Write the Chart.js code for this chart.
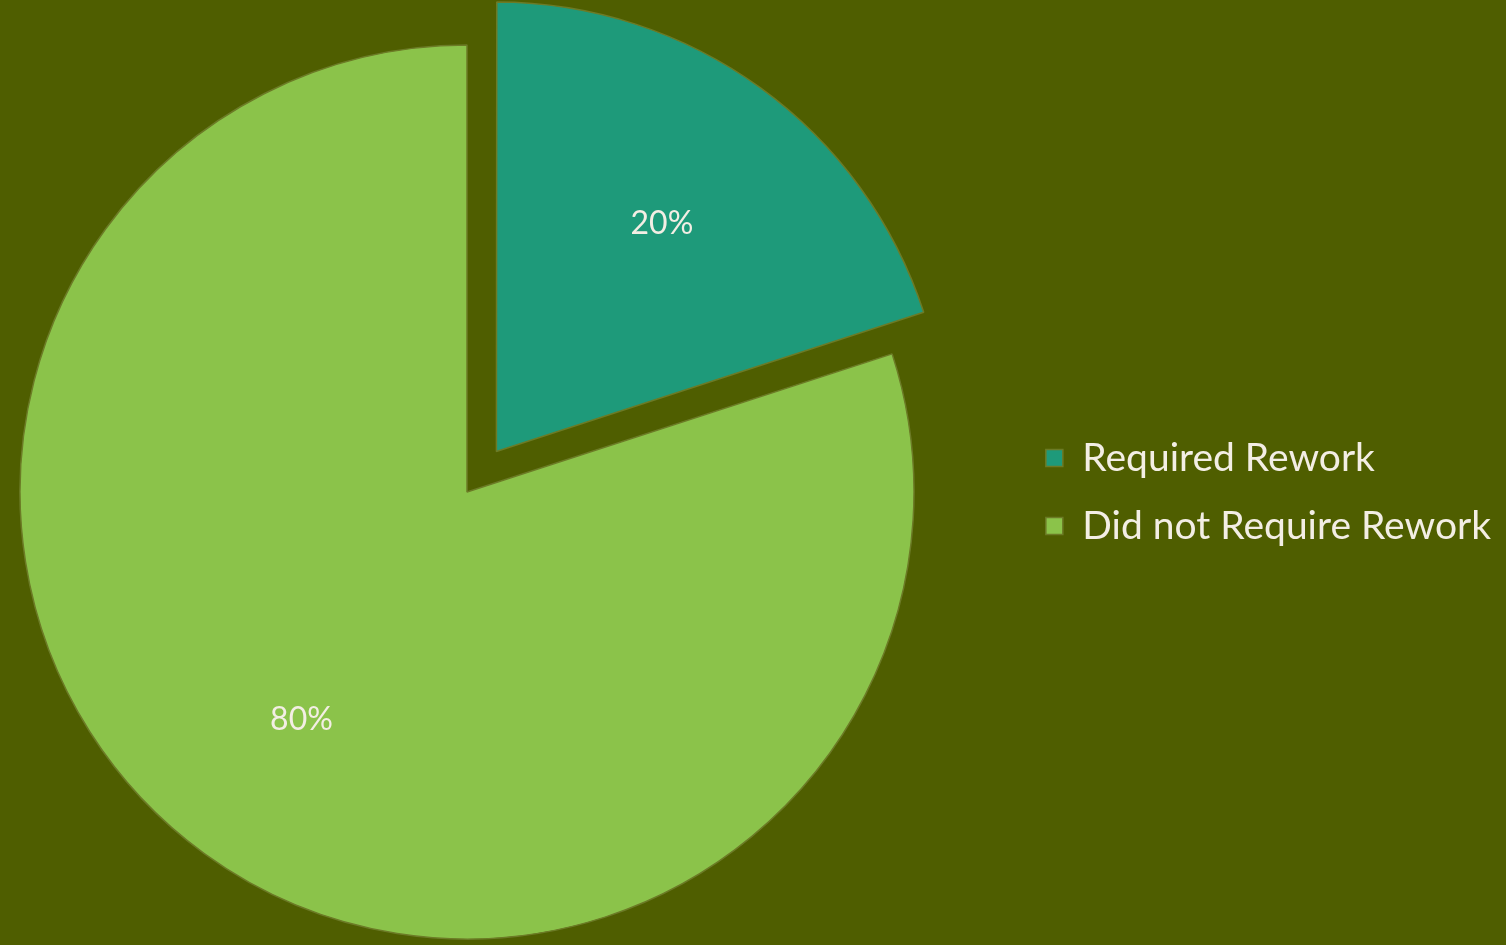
<!DOCTYPE html>
<html>
<head>
<meta charset="utf-8">
<title>Rework</title>
<script src="https://cdn.jsdelivr.net/npm/chart.js@4.4.1/dist/chart.umd.min.js"></script>
<style>
    html, body { margin: 0; padding: 0; background: #4f5e00; }
    #wrap { width: 1506px; height: 945px; }
</style>
</head>
<body>
<div id="wrap"><canvas id="reworkPie"></canvas></div>
<script>
var categories = ['Required Rework', 'Did not Require Rework'];
var shares = [20, 80];
var sliceColors = ['#1e9a7a', '#8bc34a'];
// chart.js slides an arc out by a quarter of its offset
var sliceOffsets = [200, 0];

// keep the pie in the left part, the legend sits further right
var pieArea = {
    id: 'pieArea',
    afterLayout: function (chart) {
        var area = chart.chartArea;
        area.right = area.left + 934;
        area.width = 934;
    }
};

// percentage text inside each slice
var sliceLabels = {
    id: 'sliceLabels',
    afterDatasetsDraw: function (chart) {
        var ctx = chart.ctx;
        var meta = chart.getDatasetMeta(0);
        var total = shares.reduce((a, b) => a + b, 0);
        ctx.save();
        ctx.font = '32px Lato, "Open Sans", sans-serif';
        ctx.fillStyle = '#f3eee4';
        ctx.textAlign = 'center';
        ctx.textBaseline = 'middle';
        meta.data.forEach(function (arc, i) {
            var p = arc.getProps(['x', 'y', 'startAngle', 'endAngle', 'outerRadius'], true);
            var mid = (p.startAngle + p.endAngle) / 2;
            var dist = sliceOffsets[i] / 4 + p.outerRadius * 0.63;
            var tx = p.x + Math.cos(mid) * dist;
            var ty = p.y + Math.sin(mid) * dist;
            ctx.fillText(Math.round(shares[i] / total * 100) + '%', tx, ty);
        });
        ctx.restore();
    }
};

var ctx = document.getElementById('reworkPie').getContext('2d');
new Chart(ctx, {
    type: 'pie',
    data: {
        labels: categories,
        datasets: [{
            data: shares,
            backgroundColor: sliceColors,
            borderColor: '#6c7b26',
            borderWidth: 1.5,
            offset: sliceOffsets,
            radius: 447
        }]
    },
    options: {
        responsive: true,
        maintainAspectRatio: false,
        animation: false,
        events: [],
        layout: {
            padding: { left: 0, right: 5, top: 39, bottom: 0 }
        },
        plugins: {
            tooltip: { enabled: false },
            legend: {
                position: 'right',
                labels: {
                    color: '#f3eee4',
                    boxWidth: 17,
                    boxHeight: 17,
                    padding: 29,
                    font: { family: 'Lato, "Open Sans", sans-serif', size: 39 }
                }
            }
        }
    },
    plugins: [pieArea, sliceLabels]
});
</script>
</body>
</html>
